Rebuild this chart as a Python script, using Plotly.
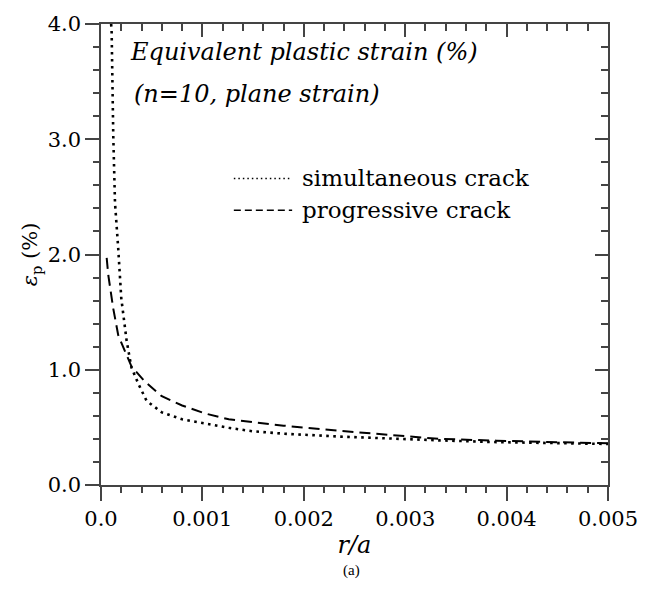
import plotly.graph_objects as go

# --- data ---
sim_x = [0.000100, 0.000105, 0.000121, 0.000138, 0.000170, 0.000187, 0.000200, 0.000220,
         0.000253, 0.000300, 0.000370, 0.000450, 0.000600, 0.000800, 0.001030, 0.001260,
         0.001490, 0.00180, 0.00236, 0.00290, 0.00334, 0.00390, 0.00433, 0.00470, 0.00500]
sim_y = [4.00, 3.93, 3.03, 2.45, 2.05, 1.79, 1.62, 1.48,
         1.25, 1.02, 0.875, 0.73, 0.63, 0.57, 0.53, 0.496,
         0.467, 0.445, 0.42, 0.40, 0.387, 0.372, 0.364, 0.360, 0.356]

pro_x = [0.000056, 0.000072, 0.000121, 0.000170, 0.000237, 0.000300, 0.000430, 0.000600,
         0.000800, 0.001030, 0.001260, 0.001490, 0.00180, 0.00236, 0.00290, 0.00334,
         0.00390, 0.00433, 0.00470, 0.00500]
pro_y = [1.97, 1.82, 1.53, 1.30, 1.16, 1.03, 0.90, 0.77,
         0.69, 0.62, 0.57, 0.545, 0.515, 0.47, 0.43, 0.40,
         0.385, 0.373, 0.367, 0.362]

x_tickvals = [0.0, 0.001, 0.002, 0.003, 0.004, 0.005]
x_ticktext = ["0.0", "0.001", "0.002", "0.003", "0.004", "0.005"]
y_tickvals = [0.0, 1.0, 2.0, 3.0, 4.0]
y_ticktext = ["0.0", "1.0", "2.0", "3.0", "4.0"]
x_minor = [round(i * 0.0002, 6) for i in range(26) if i % 5]
y_minor = [round(i * 0.2, 3) for i in range(21) if i % 5]

series_names = ["simultaneous crack", "progressive crack"]
title_lines = ["Equivalent plastic strain (%)", "(n=10, plane strain)"]

SERIF = "DejaVu Serif"
AX = "#444444"
XR = [0, 0.005]
YR = [0, 4.0]

fig = go.Figure()
fig.add_trace(go.Scatter(x=sim_x, y=sim_y, mode="lines", name=series_names[0],
                         line=dict(color="black", width=2.6, dash="2.6px,4.4px"),
                         showlegend=False))
fig.add_trace(go.Scatter(x=pro_x, y=pro_y, mode="lines", name=series_names[1],
                         line=dict(color="black", width=2.0, dash="11px,6px"),
                         showlegend=False))

common_axis = dict(showgrid=False, zeroline=False, showline=True, linecolor=AX, linewidth=1.5,
                   tickcolor=AX, tickwidth=1.5)
tick_only = dict(showgrid=False, zeroline=False, showline=False, tickwidth=1.5,
                 showticklabels=False, tickmode="array", tickcolor=AX)

fig.update_layout(
    width=658, height=596,
    margin=dict(l=101, r=50, t=20, b=111),
    plot_bgcolor="white", paper_bgcolor="white",
    font=dict(family=SERIF, size=21, color="black"),
    xaxis=dict(range=XR, tickmode="array", tickvals=x_tickvals, ticktext=x_ticktext,
               ticks="outside", ticklen=14,
               tickfont=dict(family=SERIF, size=21),
               title=dict(text="<i>r/a</i>", font=dict(family=SERIF, size=24), standoff=6),
               **common_axis),
    yaxis=dict(range=YR, tickmode="array", tickvals=y_tickvals, ticktext=y_ticktext,
               ticks="outside", ticklen=14,
               tickfont=dict(family=SERIF, size=21),
               title=dict(text="<i>ε</i><sub>p</sub> (%)", font=dict(family=SERIF, size=21), standoff=4),
               **common_axis),
    # top / right frame with inward major ticks
    xaxis2=dict(range=XR, overlaying="x", side="top", anchor="y",
                tickvals=x_tickvals, ticks="inside", ticklen=13,
                **{**tick_only, "showline": True, "linecolor": AX, "linewidth": 1.5}),
    yaxis2=dict(range=YR, overlaying="y", side="right", anchor="x",
                tickvals=y_tickvals, ticks="inside", ticklen=13,
                **{**tick_only, "showline": True, "linecolor": AX, "linewidth": 1.5}),
    # minor ticks: bottom/left outward, top/right inward
    xaxis3=dict(range=XR, overlaying="x", side="bottom", anchor="y",
                tickvals=x_minor, ticks="outside", ticklen=7, **tick_only),
    yaxis3=dict(range=YR, overlaying="y", side="left", anchor="x",
                tickvals=y_minor, ticks="outside", ticklen=7, **tick_only),
    xaxis4=dict(range=XR, overlaying="x", side="top", anchor="y",
                tickvals=x_minor, ticks="inside", ticklen=7, **tick_only),
    yaxis4=dict(range=YR, overlaying="y", side="right", anchor="x",
                tickvals=y_minor, ticks="inside", ticklen=7, **tick_only),
    showlegend=False,
)

for xa, ya in [("x2", "y2"), ("x3", "y3"), ("x4", "y4")]:
    fig.add_trace(go.Scatter(x=[None], y=[None], xaxis=xa, yaxis=ya, showlegend=False,
                             hoverinfo="skip"))

# title text inside plot
fig.add_annotation(text="<i>" + title_lines[0] + "</i>", xref="paper", yref="paper",
                   x=0.053, y=0.940, xanchor="left", yanchor="middle", showarrow=False,
                   font=dict(family=SERIF, size=24))
fig.add_annotation(text="<i>" + title_lines[1] + "</i>", xref="paper", yref="paper",
                   x=0.061, y=0.849, xanchor="left", yanchor="middle", showarrow=False,
                   font=dict(family=SERIF, size=24))

# legend drawn manually
fig.add_shape(type="line", xref="paper", yref="paper", x0=0.262, x1=0.377, y0=0.665, y1=0.665,
              line=dict(color="black", width=1.5, dash="1.5px,3px"))
fig.add_shape(type="line", xref="paper", yref="paper", x0=0.262, x1=0.377, y0=0.596, y1=0.596,
              line=dict(color="black", width=1.5, dash="7px,4px"))
fig.add_annotation(text=series_names[0], xref="paper", yref="paper", x=0.393, y=0.665,
                   xanchor="left", yanchor="middle", showarrow=False,
                   font=dict(family=SERIF, size=23))
fig.add_annotation(text=series_names[1], xref="paper", yref="paper", x=0.393, y=0.596,
                   xanchor="left", yanchor="middle", showarrow=False,
                   font=dict(family=SERIF, size=23))

# caption
fig.add_annotation(text="(a)", xref="paper", yref="paper", x=0.495, y=-0.185,
                   xanchor="center", yanchor="middle", showarrow=False,
                   font=dict(family="Liberation Serif", size=15))

fig.write_html("out.html")
